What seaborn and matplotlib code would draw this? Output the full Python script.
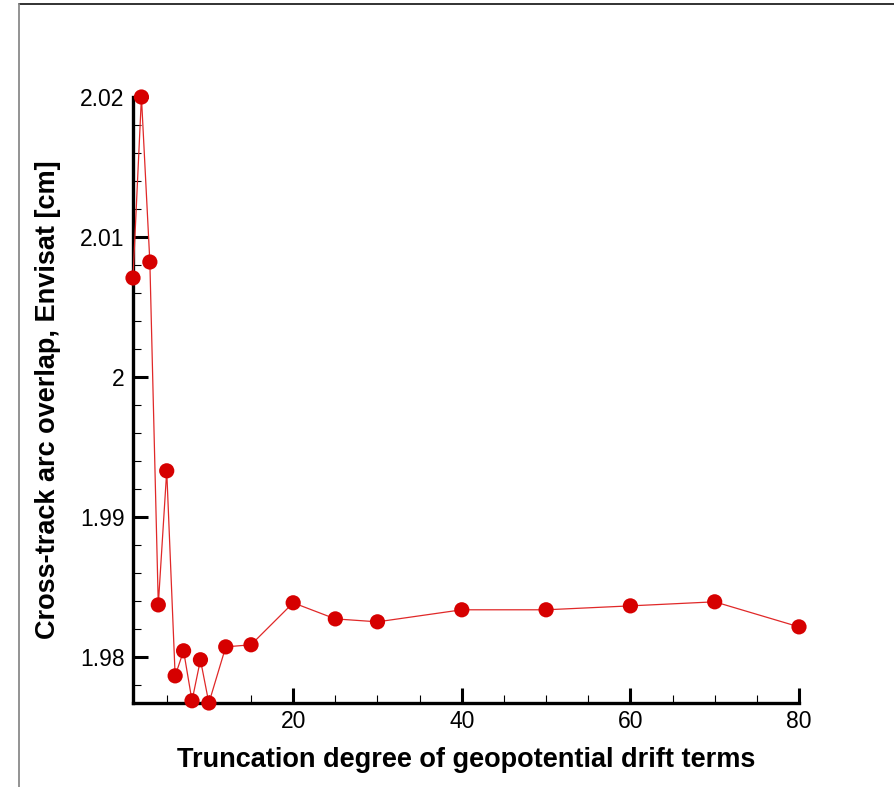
import matplotlib
matplotlib.use("Agg")
import matplotlib.pyplot as plt
from matplotlib.lines import Line2D
from matplotlib.ticker import MultipleLocator, FixedLocator
import seaborn as sns
import pandas as pd

# Truncation degree of the geopotential drift terms and the resulting
# cross-track arc overlap for Envisat (cm)
degree = [1, 2, 3, 4, 5, 6, 7, 8, 9, 10, 12, 15, 20, 25, 30, 40, 50, 60, 70, 80]
overlap = [2.00707, 2.0200, 2.00821, 1.98371, 1.99329, 1.97864, 1.98043,
           1.97686, 1.97979, 1.97670, 1.98071, 1.98086, 1.98386, 1.98271,
           1.98250, 1.98336, 1.98336, 1.98364, 1.98393, 1.98214]
x_ticks = [20, 40, 60, 80]
y_ticks = [1.98, 1.99, 2.00, 2.01, 2.02]
y_tick_labels = ["1.98", "1.99", "2", "2.01", "2.02"]

df = pd.DataFrame({"degree": degree, "overlap": overlap})

sns.set_theme(style="white")
plt.rcParams["font.family"] = ["Liberation Sans", "DejaVu Sans"]
plt.rcParams["text.color"] = "black"
plt.rcParams["axes.labelcolor"] = "black"

fig = plt.figure(figsize=(8.94, 7.87), dpi=100)
ax = fig.add_axes([133 / 894, 1 - 703 / 787, (799 - 133) / 894, (703 - 97) / 787])

sns.lineplot(data=df, x="degree", y="overlap", ax=ax, color="#e02828",
             linewidth=0.9, clip_on=False, zorder=3)
sns.scatterplot(data=df, x="degree", y="overlap", ax=ax, color="#d60000",
                s=120, edgecolor="none", clip_on=False, zorder=4)

ax.set_xlim(1, 80)
ax.set_ylim(1.9767, 2.02)

ax.xaxis.set_major_locator(FixedLocator(x_ticks))
ax.xaxis.set_minor_locator(MultipleLocator(5))
ax.set_yticks(y_ticks)
ax.set_yticklabels(y_tick_labels)
ax.yaxis.set_minor_locator(MultipleLocator(0.002))

for side in ("top", "right"):
    ax.spines[side].set_visible(False)
for side in ("left", "bottom"):
    ax.spines[side].set_linewidth(2.4)
    ax.spines[side].set_color("black")

ax.tick_params(which="major", direction="in", length=11, width=2.2,
               colors="black", labelsize=16.5, pad=6)
ax.tick_params(axis="x", which="major", pad=5)
ax.tick_params(which="minor", direction="in", length=5.5, width=0.8,
               colors="black")
ax.tick_params(axis="x", which="both", bottom=True, top=False)
ax.tick_params(axis="y", which="both", left=True, right=False)

ax.set_xlabel("Truncation degree of geopotential drift terms",
              fontsize=19.5, fontweight="bold", labelpad=10, color="black")
ax.set_ylabel("Cross-track arc overlap, Envisat [cm]",
              fontsize=19.5, fontweight="bold", labelpad=14, color="black")

# page frame lines along the top and left edges
fig.add_artist(Line2D([19 / 894, 1], [1 - 4 / 787, 1 - 4 / 787],
                      transform=fig.transFigure, color="#222222", lw=1.3))
fig.add_artist(Line2D([19 / 894, 19 / 894], [0, 1 - 4 / 787],
                      transform=fig.transFigure, color="#8a8a8a", lw=1.3))

fig.savefig("out.png", dpi=100)
